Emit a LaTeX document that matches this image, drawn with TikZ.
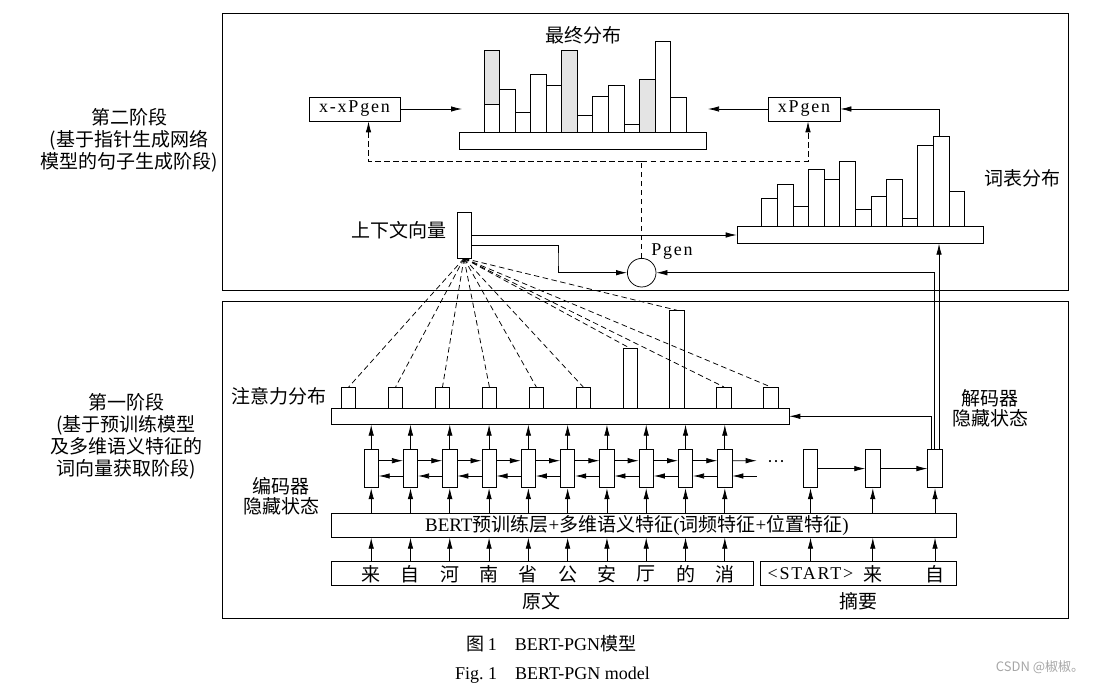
\documentclass[tikz,border=0pt]{standalone}
\usepackage{fontspec}
\setmainfont{Liberation Serif}
\newfontfamily\cjk{Noto Sans CJK SC}
\newfontfamily\kuan[LetterSpace=10]{Liberation Serif}
\usepackage{xcolor}
\definecolor{huise}{HTML}{E4E4E4}
\usetikzlibrary{arrows.meta}
\tikzstyle{kuang} = [draw, fill=white, inner sep=0pt]
\tikzstyle{zhu} = [draw, fill=white, anchor=south, inner sep=0pt, minimum width=15.6]
\tikzstyle{hanzi} = [font=\fontsize{19}{22}\selectfont\cjk, align=center]
\tikzstyle{zimu} = [font=\fontsize{18}{21}\selectfont\kuan]
\tikzstyle{xuxian} = [dash pattern=on 5.5pt off 3.5pt]

\begin{document}
\begin{tikzpicture}[x=1pt, y=-1pt, line width=0.75pt, font=\fontsize{18}{21}\selectfont, >={Latex[length=11pt,width=5.5pt]}]
\useasboundingbox (0,0) rectangle (1097,687);

% second stage
\draw (222,13) rectangle (1068,290);
\node (jieduan2) [hanzi] at (129,140) {第二阶段\\(基于指针生成网络\\模型的句子生成阶段)};

\node (zuizhong) [hanzi] at (583,35) {最终分布};
\node (zuizhongdi) [kuang, minimum width=247, minimum height=17] at (582.5,140.6) {};
\foreach \h/\c [count=\i from 0] in {81.6/huise,42.3/white,19.6/white,58/white,47/white,81.6/huise,17/white,35.6/white,46.6/white,8/white,53/huise,90.6/white,35/white}
  \node (f\i) [zhu, fill=\c, minimum height=\h] at (491.8+15.55*\i,132.3) {};
\node (f0di) [zhu, minimum height=27.6] at (f0.south) {};

\node (cihui) [hanzi] at (1022,178) {词表分布};
\node (cihuidi) [kuang, minimum width=246, minimum height=16.6] at (860,235) {};
\foreach \h [count=\i from 0] in {27.7,42.4,19.7,57.4,47,65,17,30,46.7,8.4,81.4,90.4,35}
  \node (v\i) [zhu, minimum height=\h] at (769.5+15.6*\i,226.7) {};

\node (xxp) [kuang, zimu, minimum width=91, minimum height=24] at (354.5,109) {x-xPgen};
\node (xp) [kuang, zimu, minimum width=72, minimum height=24] at (804,109) {xPgen};
\coordinate (fzuo) at (462,109);
\coordinate (fyou) at (708,109);
\draw[->] (xxp) -- (fzuo);
\draw[->] (xp) -- (fyou);
\draw[->] ([xshift=-1.5pt]v11.north) |- (xp.east);

\node (ctx) [kuang, minimum width=14, minimum height=46] at (464,235) {};
\node (ctxlabel) [hanzi, anchor=east] at (450,230) {上下文向量};
\node (pgen) [circle, draw, minimum size=28.6, inner sep=0pt] at (641.7,272.7) {};
\node (pgenlabel) [zimu] at (672,252) {Pgen};
\coordinate (zhuan) at (558,260);
\coordinate (xz) at (641.7,161.7);

\draw[->] (ctx.east) -- (cihuidi.west);
\draw[->] ([yshift=-10.7pt]ctx.east) -| (zhuan) |- (pgen.west);
\draw[xuxian] (pgen.north) -- (xz);
\draw[xuxian,->] (xz) -| ([xshift=14pt]xxp.south);
\draw[xuxian,->] (xz) -| ([xshift=4pt]xp.south);

% first stage
\draw (222,301) rectangle (1068,618);
\node (jieduan1) [hanzi] at (126,436) {第一阶段\\(基于预训练模型\\及多维语义特征的\\词向量获取阶段)};

\node (zhuyi) [hanzi] at (279,396.7) {注意力分布};
\node (zhuyidi) [kuang, minimum width=457.3, minimum height=16] at (560.3,416.3) {};
\foreach \h [count=\i from 0] in {20.6,20.6,20.6,20.6,20.6,20.6,59.3,97.3,20.6,20.6}
  \node (a\i) [zhu, minimum width=14.3, minimum height=\h] at (348.7+46.9*\i,408.3) {};
\foreach \i in {0,...,9}
  \draw[xuxian] (ctx.south) -- (a\i.north);

\node (bianma) [hanzi] at (281,496.7) {编码器\\[-2pt]隐藏状态};
\node (jiema) [hanzi] at (990,408.3) {解码器\\[-2pt]隐藏状态};

\node (bert) [kuang, font=\fontsize{19}{22}\selectfont, minimum width=624.3, minimum height=24] at (643.9,525.3) {BERT{\cjk 预训练层}+{\cjk 多维语义特征}({\cjk 词频特征}+{\cjk 位置特征})\hspace*{14pt}};
\node (yuanwen) [kuang, minimum width=421.6, minimum height=24] at (542.5,573.7) {};
\node (zhaiyao) [kuang, minimum width=195.3, minimum height=24] at (858.3,573.7) {};
\node (yuanwenlabel) [hanzi] at (541.7,601) {原文};
\node (zhaiyaolabel) [hanzi] at (858.3,601) {摘要};

% encoder
\foreach \w [count=\i from 0] in {来,自,河,南,省,公,安,厅,的,消} {
  \node (e\i) [kuang, minimum width=14.3, minimum height=38.4] at (371.2+39.29*\i,468.6) {};
  \node (w\i) [hanzi] at (371.2+39.29*\i,574) {\w};
  \draw[->] (e\i |- yuanwen.north) -- (e\i |- bert.south);
  \draw[->] (e\i |- bert.north) -- (e\i.south);
  \draw[->] (e\i.north) -- (e\i |- zhuyidi.south);
}
\foreach \i [evaluate=\i as \j using int(\i+1)] in {0,...,8} {
  \draw[->] ([yshift=7.9pt]e\i.east) -- ([yshift=7.9pt]e\j.west);
  \draw[->] ([yshift=-7.4pt]e\j.west) -- ([yshift=-7.4pt]e\i.east);
}
\coordinate (dian1) at (756.7,460.7);
\coordinate (dian2) at (756.7,476);
\draw[->] ([yshift=7.9pt]e9.east) -- (dian1);
\draw[->] (dian2) -- ([yshift=-7.4pt]e9.east);
\node (dots) at (776,464) {···};

% decoder
\foreach \x [count=\i from 0] in {810.5,872.8,935} {
  \node (d\i) [kuang, minimum width=14.3, minimum height=38.4] at (\x,468.6) {};
  \draw[->] (d\i |- zhaiyao.north) -- (d\i |- bert.south);
  \draw[->] (d\i |- bert.north) -- (d\i.south);
}
\node (s0) [zimu] at (810.5,574) {<START>};
\node (s1) [hanzi] at (872.8,574) {来};
\node (s2) [hanzi] at (935,574) {自};
\draw[->] (d0) -- (d1);
\draw[->] (d1) -- (d2);
\draw[->] ([xshift=4pt]d2.north) -- ([xshift=4pt]d2.north |- cihuidi.south);
\draw[->] ([xshift=-1pt]d2.north) |- (pgen.east);
\draw[->] ([xshift=-3.5pt]d2.north) |- (zhuyidi.east);

% caption
\node (tuzhu) at (551.5,643.3) {{\cjk 图}\,1\quad BERT-PGN{\cjk 模型}};
\node (figzhu) at (552.5,675) {Fig.~1\quad BERT-PGN model};
\node (shuiyin) [text=gray!70, font=\fontsize{13}{15}\selectfont\cjk] at (1040,667) {CSDN @椒椒。};
\end{tikzpicture}
\end{document}
